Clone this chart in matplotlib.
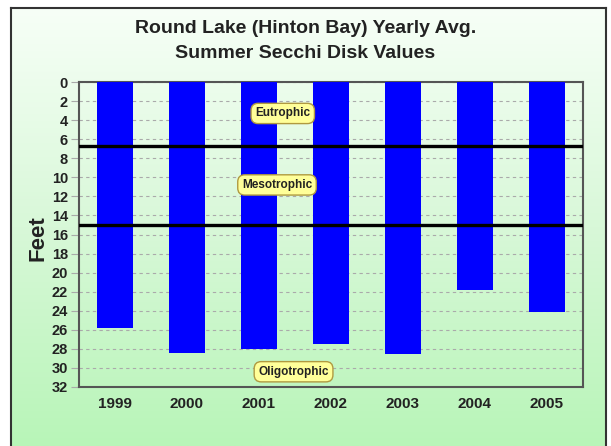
import numpy as np
import matplotlib
matplotlib.use("Agg")
from matplotlib import pyplot as plt
from matplotlib.colors import LinearSegmentedColormap

plt.rcParams['font.family'] = ['Liberation Sans', 'DejaVu Sans']

## datos
anios = ['1999', '2000', '2001', '2002', '2003', '2004', '2005']
secchi = [25.8, 28.4, 28.0, 27.5, 28.5, 21.8, 24.1]
limites = [6.7, 15.0]
zonas = ['Eutrophic', 'Mesotrophic', 'Oligotrophic']
zona_x = [2.33, 2.25, 2.48]
zona_y = [3.3, 10.8, 30.4]
ticks_y = list(range(0, 33, 2))

fig = plt.figure(figsize=(6.11, 4.46), dpi=100)
fig.patch.set_facecolor('white')

## fondo degradado con borde
fondo = fig.add_axes([11/611, 0, 595/611, 438/446])
verde = LinearSegmentedColormap.from_list('verde', ['#f7fff7', '#d8f8d8', '#b8f5b8'])
grad = np.linspace(0, 1, 256).reshape(-1, 1)
fondo.imshow(grad, aspect='auto', cmap=verde, extent=[0, 1, 0, 1], origin='upper')
fondo.set_xticks([])
fondo.set_yticks([])
for lado in ['left', 'right', 'top']:
    fondo.spines[lado].set_color('#333333')
    fondo.spines[lado].set_linewidth(1.5)
fondo.spines['bottom'].set_visible(False)

## grafico principal
ax = fig.add_axes([79/611, 1-387/446, 504/611, 305/446])
ax.patch.set_alpha(0)
x = np.arange(len(anios))
ax.bar(x, secchi, width=0.5, color='#0000ff', zorder=3)
ax.set_ylim(32, 0)
ax.set_xlim(-0.5, len(anios)-0.5)
ax.set_yticks(ticks_y)
ax.set_yticklabels([str(t) for t in ticks_y], fontweight='bold', fontsize=10.5, color='#222222')
ax.set_xticks(x)
ax.set_xticklabels(anios, fontweight='bold', fontsize=11, color='#222222')
ax.tick_params(axis='x', length=0, pad=7)
ax.tick_params(axis='y', length=6, color='#aaaaaa', pad=2, direction='out')
ax.yaxis.grid(True, linestyle=(0, (3, 3)), color='#aaaaaa', linewidth=0.8, zorder=1)
for lado in ax.spines:
    ax.spines[lado].set_color('#555555')
    ax.spines[lado].set_linewidth(1.5)

for lim in limites:
    ax.axhline(lim, color='black', linewidth=2.4, zorder=4)

for nombre, zx, zy in zip(zonas, zona_x, zona_y):
    ax.text(zx, zy, nombre, ha='center', va='center', fontsize=8.5, fontweight='bold',
            color='#222222', zorder=5,
            bbox=dict(boxstyle='round,pad=0.35,rounding_size=0.6', facecolor='#ffff99',
                      edgecolor='#b09a40', linewidth=1))

fig.text(38/611, 1-238/446, 'Feet', rotation=90, ha='center', va='center',
         fontsize=16, fontweight='bold', color='#222222')

fig.text(0.5, 1-33/446, 'Round Lake (Hinton Bay) Yearly Avg.', ha='center', va='baseline',
         fontsize=14, fontweight='bold', color='#222222')
fig.text(0.5, 1-58/446, 'Summer Secchi Disk Values', ha='center', va='baseline',
         fontsize=14, fontweight='bold', color='#222222')

plt.savefig('out.png', dpi=100)
